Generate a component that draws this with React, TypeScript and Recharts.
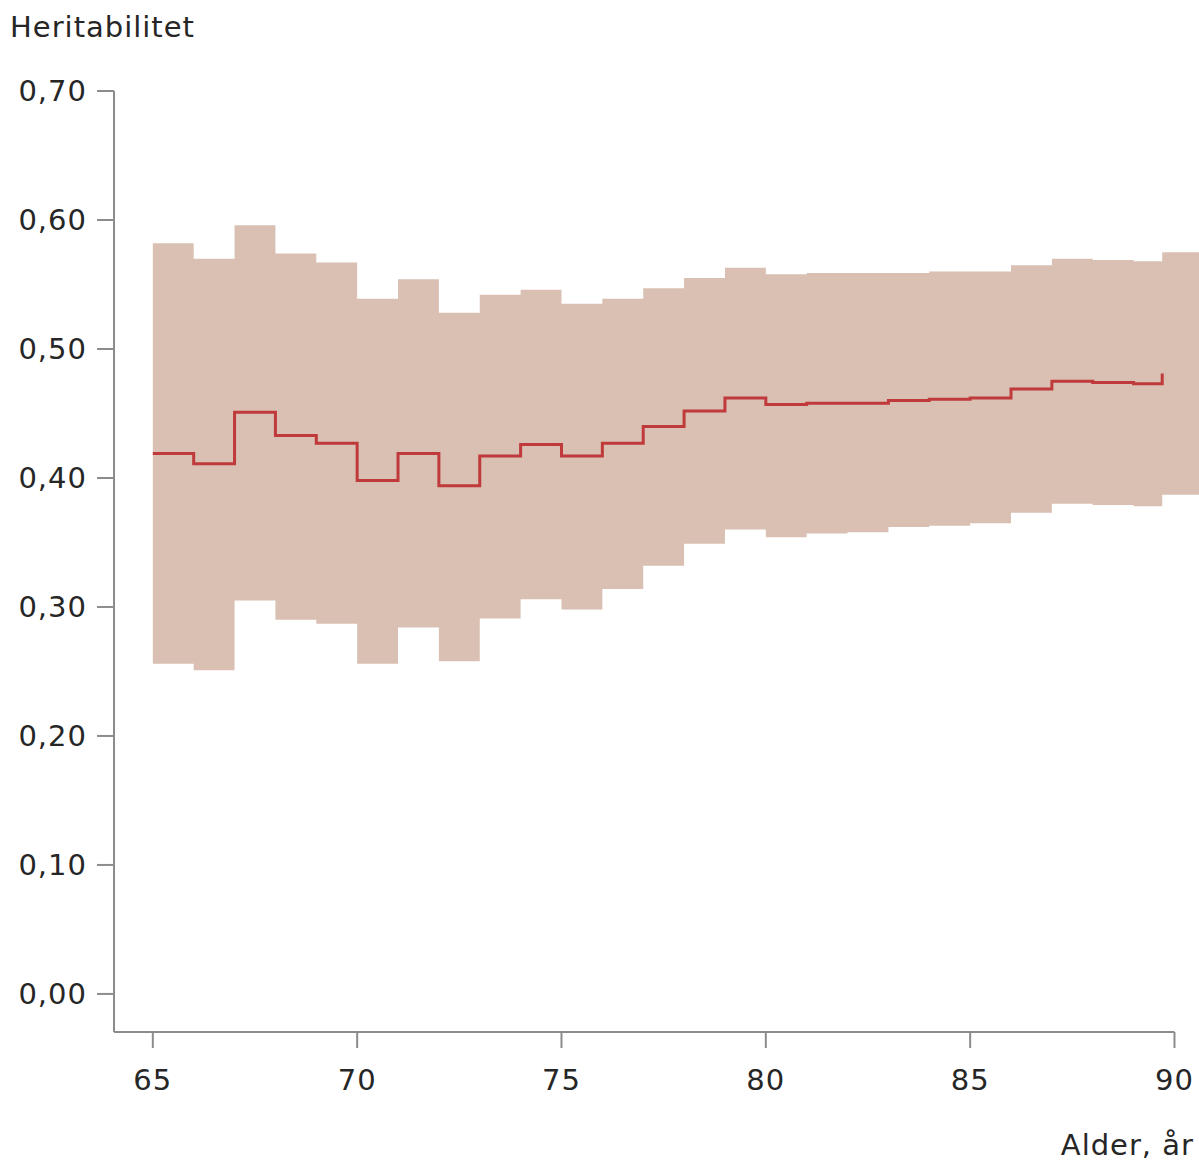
import { ComposedChart, Area, Line, XAxis, YAxis, ReferenceLine } from "recharts";

// ages where a step starts; last two are the final partial step and the right edge
const AGES = [
  65, 66, 67, 68, 69, 70, 71, 72, 73, 74, 75, 76, 77, 78, 79, 80, 81, 82, 83, 84,
  85, 86, 87, 88, 89, 89.7, 90.6,
];

const HERITABILITY = [
  0.419, 0.411, 0.451, 0.433, 0.427, 0.398, 0.419, 0.394, 0.417, 0.426, 0.417,
  0.427, 0.44, 0.452, 0.462, 0.457, 0.458, 0.458, 0.46, 0.461, 0.462, 0.469,
  0.475, 0.474, 0.473, 0.481, null,
];

const UPPER = [
  0.582, 0.57, 0.596, 0.574, 0.567, 0.539, 0.554, 0.528, 0.542, 0.546, 0.535,
  0.539, 0.547, 0.555, 0.563, 0.558, 0.559, 0.559, 0.559, 0.56, 0.56, 0.565,
  0.57, 0.569, 0.568, 0.575, 0.575,
];

const LOWER = [
  0.256, 0.251, 0.305, 0.29, 0.287, 0.256, 0.284, 0.258, 0.291, 0.306, 0.298,
  0.314, 0.332, 0.349, 0.36, 0.354, 0.357, 0.358, 0.362, 0.363, 0.365, 0.373,
  0.38, 0.379, 0.378, 0.387, 0.387,
];

const X_TICKS = [65, 70, 75, 80, 85, 90];
const Y_TICKS = [0, 0.1, 0.2, 0.3, 0.4, 0.5, 0.6, 0.7];

const X_MIN = 64.05;
const X_MAX = 90.6;
const X_AXIS_END = 90;
const Y_MIN = -0.0295;
const Y_MAX = 0.7;

const FONT = "'DejaVu Sans', sans-serif";
const TEXT_COLOR = "#262626";
const AXIS_COLOR = "#8c8c8c";

const data = AGES.map((age, i) => ({
  age,
  h2: HERITABILITY[i],
  band: [LOWER[i], UPPER[i]],
}));

const tickStyle = {
  fontFamily: FONT,
  fontSize: 29,
  fill: TEXT_COLOR,
  letterSpacing: 1,
};

const fmt = (v: number) => v.toFixed(2).replace(".", ",");

function YTitle({ viewBox }: any) {
  return (
    <text x={viewBox.x - 24} y={viewBox.y - 54} style={tickStyle} textAnchor="start">
      Heritabilitet
    </text>
  );
}

function XTitle({ viewBox }: any) {
  return (
    <text
      x={viewBox.x + viewBox.width - 5}
      y={viewBox.y + 123}
      style={tickStyle}
      textAnchor="end"
    >
      Alder, år
    </text>
  );
}

export default function App() {
  return (
    <div style={{ position: "absolute", left: 0, top: 0 }}>
      <ComposedChart
        width={1199}
        height={1164}
        data={data}
        margin={{ top: 91, right: 0, left: 34, bottom: 72 }}
      >
        <XAxis
          dataKey="age"
          type="number"
          domain={[X_MIN, X_MAX]}
          ticks={X_TICKS}
          height={60}
          axisLine={false}
          tickSize={16}
          tickMargin={21}
          tickLine={{ stroke: AXIS_COLOR, strokeWidth: 2 }}
          tick={tickStyle}
          label={<XTitle />}
        />
        <YAxis
          type="number"
          domain={[Y_MIN, Y_MAX]}
          ticks={Y_TICKS}
          width={80}
          tickSize={17}
          tickMargin={10}
          tickFormatter={fmt}
          axisLine={{ stroke: AXIS_COLOR, strokeWidth: 2 }}
          tickLine={{ stroke: AXIS_COLOR, strokeWidth: 2 }}
          tick={tickStyle}
          label={<YTitle />}
        />
        <Area
          dataKey="band"
          type="stepAfter"
          fill="#d9c0b3"
          fillOpacity={1}
          stroke="none"
          isAnimationActive={false}
          dot={false}
          activeDot={false}
        />
        <Line
          dataKey="h2"
          type="stepAfter"
          stroke="#c0393b"
          strokeWidth={3}
          dot={false}
          activeDot={false}
          isAnimationActive={false}
        />
        <ReferenceLine
          segment={[
            { x: X_MIN, y: Y_MIN },
            { x: X_AXIS_END, y: Y_MIN },
          ]}
          stroke={AXIS_COLOR}
          strokeWidth={2}
          ifOverflow="visible"
        />
      </ComposedChart>
    </div>
  );
}
